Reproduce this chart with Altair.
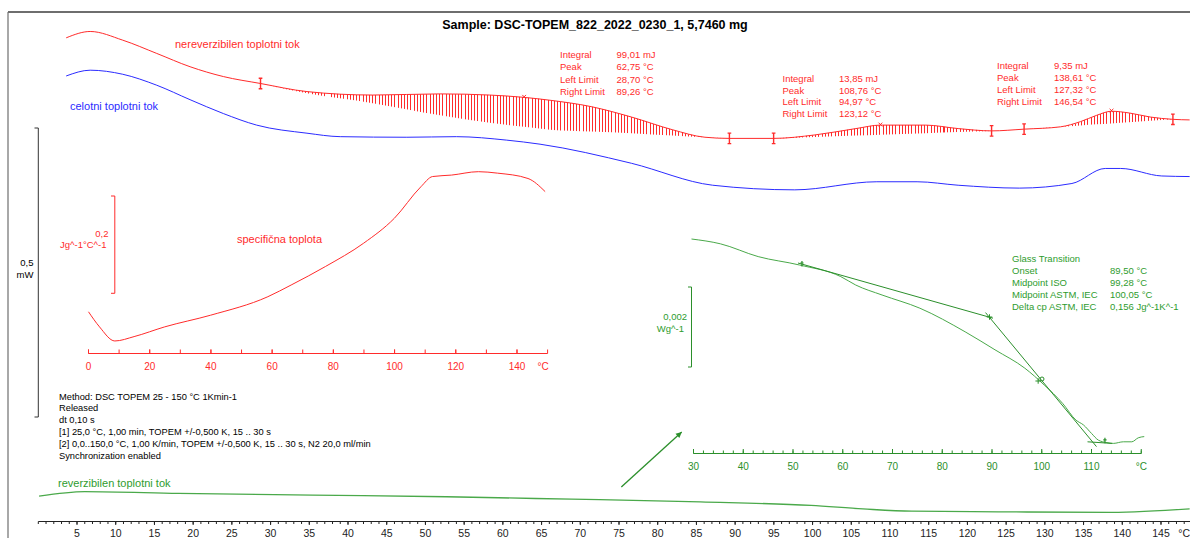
import math
import altair as alt
import pandas as pd

# ---------------- data ----------------
TITLE = "Sample: DSC-TOPEM_822_2022_0230_1, 5,7460 mg"

# main temperature axis (°C) and heat flow (mW, arbitrary offset)
NREV_T = [3.6, 6.7, 10.9, 15.3, 19.6, 23.9, 28.7, 34.7, 43.2, 51.9, 58.3, 62.75, 66.1, 71.4,
          76.6, 81.9, 86.1, 89.26, 94.97, 100.3, 105.6, 108.76, 114.6, 118.8, 123.12, 127.32,
          132.0, 134.6, 136.7, 138.61, 140.9, 143.6, 146.54, 148.7]
NREV_V = [0.656, 0.667, 0.652, 0.629, 0.606, 0.589, 0.577, 0.563, 0.557, 0.559, 0.557, 0.553,
          0.548, 0.537, 0.519, 0.497, 0.484, 0.482, 0.482, 0.488, 0.499, 0.505, 0.505, 0.499,
          0.495, 0.498, 0.502, 0.511, 0.522, 0.529, 0.526, 0.519, 0.515, 0.514]

TOTAL_T = [3.6, 6.7, 10.9, 15.3, 19.6, 23.9, 28.2, 34.7, 39.0, 47.6, 54.0, 60.5, 64.8, 76.6,
           87.1, 97.7, 108.3, 113.5, 118.8, 126.7, 133.5, 137.8, 139.8, 145.1, 148.7]
TOTAL_V = [0.590, 0.600, 0.593, 0.574, 0.549, 0.525, 0.505, 0.491, 0.485, 0.484, 0.485, 0.479,
           0.472, 0.439, 0.401, 0.393, 0.407, 0.407, 0.401, 0.396, 0.404, 0.430, 0.430, 0.417,
           0.416]

REV_T = [0.1, 6.0, 18.1, 35.4, 52.7, 64.2, 72.5, 85.5, 99.8, 106.5, 112.8, 124.0, 138.6, 148.7]
REV_V = [-0.137, -0.129, -0.132, -0.135, -0.138, -0.141, -0.143, -0.147, -0.153, -0.159,
         -0.163, -0.164, -0.165, -0.159]

# integration baselines under the non-reversing curve
PEAK1_T = [28.7, 34.7, 43.2, 51.9, 58.3, 62.75, 66.1, 71.4, 76.6, 81.9, 86.1, 89.26]
PEAK1_BASE = [0.577, 0.560, 0.543, 0.522, 0.509, 0.502, 0.497, 0.494, 0.491, 0.487, 0.484, 0.482]
PEAK2_T = [94.97, 100.3, 105.6, 108.76, 114.6, 118.8, 123.12]
PEAK2_BASE = [0.482, 0.4845, 0.487, 0.4885, 0.491, 0.493, 0.495]
PEAK3_T = [127.32, 132.0, 134.6, 136.7, 138.61, 140.9, 143.6, 146.54]
PEAK3_BASE = [0.498, 0.502, 0.5045, 0.5065, 0.508, 0.510, 0.5125, 0.515]
PEAK_TOPS = [62.75, 108.76, 138.61]
PEAK_LIMITS = [28.7, 89.26, 94.97, 123.12, 127.32, 146.54]

PEAK_LABELS = ["Integral", "Peak", "Left Limit", "Right Limit"]
PEAK1_VALUES = ["99,01 mJ", "62,75 °C", "28,70 °C", "89,26 °C"]
PEAK2_VALUES = ["13,85 mJ", "108,76 °C", "94,97 °C", "123,12 °C"]
PEAK3_VALUES = ["9,35 mJ", "138,61 °C", "127,32 °C", "146,54 °C"]

# specific heat inset (°C, Jg^-1°C^-1, arbitrary offset)
CP_T = [0.0, 3.6, 8.6, 14.9, 24.9, 39.9, 58.6, 66.2, 77.4, 89.9, 99.9, 108.6, 112.4, 118.6,
        127.4, 133.6, 143.6, 149.2]
CP_V = [-0.038, -0.069, -0.098, -0.089, -0.069, -0.045, -0.007, 0.017, 0.055, 0.103, 0.154,
        0.219, 0.240, 0.243, 0.250, 0.247, 0.236, 0.209]

# glass transition inset (°C, Wg^-1, arbitrary offset)
GT_T = [29.6, 35.4, 43.0, 51.3, 59.6, 62.6, 67.9, 75.5, 84.6, 90.6, 96.6, 100.5, 104.2, 106.9,
        108.4, 110.0, 111.4, 113.1, 114.4, 116.4, 118.1, 119.4, 120.6]
GT_V = [0.00320, 0.00308, 0.00276, 0.00255, 0.00226, 0.00205, 0.00180, 0.00147, 0.00088,
        0.00043, -0.00003, -0.00045, -0.00091, -0.00133, -0.00145, -0.00166, -0.00183,
        -0.00189, -0.00191, -0.00187, -0.00187, -0.00177, -0.00174]
TAN1_T, TAN1_V = [51.0, 90.2], [0.00260, 0.00122]
TAN2_T, TAN2_V = [88.7, 111.0], [0.00136, -0.00199]
TAN3_T, TAN3_V = [109.2, 114.1], [-0.00187, -0.00191]
GT_PLUS_T, GT_PLUS_V = [89.5, 99.28], [0.00125, -0.00035]
GT_RING_T, GT_RING_V = [100.05], [-0.00030]
GT_TICK_T, GT_TICK_V = [51.8, 112.7], [0.00258, -0.00184]

GT_LABELS = ["Glass Transition", "Onset", "Midpoint ISO", "Midpoint ASTM, IEC", "Delta cp ASTM, IEC"]
GT_VALUES = ["", "89,50 °C", "99,28 °C", "100,05 °C", "0,156 Jg^-1K^-1"]

METHOD_LINES = [
    "Method: DSC TOPEM 25 - 150 °C 1Kmin-1",
    "Released",
    "dt 0,10 s",
    "[1] 25,0 °C, 1,00 min, TOPEM +/-0,500 K, 15 .. 30 s",
    "[2] 0,0..150,0 °C, 1,00 K/min, TOPEM +/-0,500 K, 15 .. 30 s, N2 20,0 ml/min",
    "Synchronization enabled",
]

ARROW_T, ARROW_V = [75.3, 83.1], [-0.121, -0.026]

MAIN_LABELS = [5, 10, 15, 20, 25, 30, 35, 40, 45, 50, 55, 60, 65, 70, 75, 80, 85, 90, 95, 100,
               105, 110, 115, 120, 125, 130, 135, 140, 145]
CP_LABELS = [0, 20, 40, 60, 80, 100, 120, 140]
GT_LABELS_AX = [30, 40, 50, 60, 70, 80, 90, 100, 110]

# ---------------- styles / layout ----------------
W, H = 1190, 538
FONT = "Liberation Sans"
RED = "#ff2b2b"
BLUE = "#2b2bff"
GREEN = "#4aa94a"
GREEN_DK = "#2b8f2b"
GREEN_TXT = "#2e9c2e"
GRAY = "#6e6e6e"

MX = [38.3, 1199.7]


def sc(domain, rng):
    return alt.Scale(domain=domain, range=rng, nice=False, zero=False)


SX_MAIN = sc([0, 150], MX)
SY_MAIN = sc([0, 0.5], [417, 128])
SX_CP = sc([0, 150], [88.5, 547.6])
SY_CP = sc([0, 0.2], [293.3, 196])
SX_GT = sc([30, 120], [693.5, 1141.25])
SY_GT = sc([0, 0.002], [367, 287])

layers = []


def XY(xs, ys, xf="x", yf="y"):
    return dict(x=alt.X(f"{xf}:Q", scale=xs, axis=None), y=alt.Y(f"{yf}:Q", scale=ys, axis=None))


def line(T, V, xs, ys, color, width=1.0, interp="monotone"):
    df = pd.DataFrame({"x": T, "y": V})
    return alt.Chart(df).mark_line(color=color, strokeWidth=width, interpolate=interp).encode(**XY(xs, ys))


def points(T, V, xs, ys, shape, color, size, angle=0, filled=False, sw=1.0):
    df = pd.DataFrame({"x": T, "y": V})
    return alt.Chart(df).mark_point(shape=shape, color=color, size=size, angle=angle,
                                    filled=filled, strokeWidth=sw, opacity=1).encode(**XY(xs, ys))


def text(s, x, y, color="black", size=9.5, align="left", weight="normal"):
    df = pd.DataFrame({"t": [s]})
    return alt.Chart(df).mark_text(font=FONT, fontSize=size, color=color, align=align,
                                   baseline="middle", fontWeight=weight).encode(
        x=alt.value(x), y=alt.value(y), text="t:N")


def block(lines_, x, y0, dy, color="black", size=9.5):
    return [text(s, x, y0 + i * dy, color, size) for i, s in enumerate(lines_) if s]


def axis(xs, t0, t1, minor, major, labels, y_line, direction, color, unit_t, fs,
         lab_y, minor_len=3, major_len=4.5):
    out = []
    out.append(alt.Chart(pd.DataFrame({"a": [t0], "b": [t1]})).mark_rule(color=color, strokeWidth=1).encode(
        x=alt.X("a:Q", scale=xs, axis=None), x2="b:Q", y=alt.value(y_line)))
    out.append(alt.Chart(pd.DataFrame({"x": minor})).mark_rule(color=color, strokeWidth=1).encode(
        x=alt.X("x:Q", scale=xs, axis=None), y=alt.value(y_line), y2=alt.value(y_line + direction * minor_len)))
    out.append(alt.Chart(pd.DataFrame({"x": major})).mark_rule(color=color, strokeWidth=1).encode(
        x=alt.X("x:Q", scale=xs, axis=None), y=alt.value(y_line), y2=alt.value(y_line + direction * major_len)))
    out.append(alt.Chart(pd.DataFrame({"x": labels, "t": [str(v) for v in labels]})).mark_text(
        font=FONT, fontSize=fs, color=color, baseline="middle", align="center").encode(
        x=alt.X("x:Q", scale=xs, axis=None), y=alt.value(lab_y), text="t:N"))
    out.append(alt.Chart(pd.DataFrame({"x": [unit_t], "t": ["°C"]})).mark_text(
        font=FONT, fontSize=fs, color=color, baseline="middle", align="center").encode(
        x=alt.X("x:Q", scale=xs, axis=None), y=alt.value(lab_y), text="t:N"))
    return out


def bracket(lo, hi, xs_px, serif_px, ys, color):
    out = []
    df = pd.DataFrame({"a": [lo], "b": [hi]})
    out.append(alt.Chart(df).mark_rule(color=color, strokeWidth=1).encode(
        x=alt.value(xs_px), y=alt.Y("a:Q", scale=ys, axis=None), y2="b:Q"))
    out.append(alt.Chart(pd.DataFrame({"y": [lo, hi]})).mark_rule(color=color, strokeWidth=1).encode(
        x=alt.value(serif_px), x2=alt.value(xs_px), y=alt.Y("y:Q", scale=ys, axis=None)))
    return out


# ---------- frame ----------
layers.append(alt.Chart(pd.DataFrame({"d": [0]})).mark_rule(color=GRAY, strokeWidth=1.2).encode(
    x=alt.value(8), y=alt.value(12), y2=alt.value(H)))
layers.append(alt.Chart(pd.DataFrame({"d": [0]})).mark_rule(color=GRAY, strokeWidth=2).encode(
    x=alt.value(8), x2=alt.value(W), y=alt.value(12)))

# ---------- scale bars ----------
layers += bracket(0, 0.5, 38.3, 34.5, SY_MAIN, "#333333")
layers += bracket(0, 0.2, 114.8, 111, SY_CP, RED)
layers += bracket(0, 0.002, 691.5, 688, SY_GT, GREEN_DK)

# ---------- axes ----------
layers += axis(SX_MAIN, 0, 150, list(range(0, 150)), MAIN_LABELS, MAIN_LABELS, 521.5, 1, "#222222",
               148.0, 10.5, 533.5, 2.5, 3.5)
layers += axis(SX_CP, 0, 150, list(range(0, 151, 10)), list(range(0, 151, 20)), CP_LABELS, 353.5, -1, RED,
               148.5, 10, 367, 4, 4)
layers += axis(SX_GT, 30, 120, list(range(30, 121, 2)), list(range(30, 121, 10)), GT_LABELS_AX, 453.5, -1,
               GREEN_DK, 120, 10, 466.5, 3, 4.5)

# ---------- hatched integration areas ----------
nrev = dict(zip(NREV_T, NREV_V))
HATCH_STEP = 3.2
px_per_deg = (MX[1] - MX[0]) / 150.0


def hatch(Ts, base):
    df = pd.DataFrame({"x": Ts, "y": [nrev[t] for t in Ts], "y2": base})
    n = max(1, round((Ts[-1] - Ts[0]) * px_per_deg / HATCH_STEP))
    lw = 1.0 / HATCH_STEP
    stops = []
    clear = "rgba(255,43,43,0)"
    for i in range(n):
        a, b, c = i / n, (i + lw) / n, (i + 1) / n
        stops += [alt.GradientStop(color=RED, offset=a), alt.GradientStop(color=RED, offset=b),
                  alt.GradientStop(color=clear, offset=b), alt.GradientStop(color=clear, offset=c)]
    grad = alt.LinearGradient(gradient="linear", stops=stops, x1=0, x2=1, y1=0, y2=0)
    return alt.Chart(df).mark_area(color=grad, interpolate="monotone").encode(
        **XY(SX_MAIN, SY_MAIN), y2="y2:Q")


layers += [hatch(PEAK1_T, PEAK1_BASE), hatch(PEAK2_T, PEAK2_BASE), hatch(PEAK3_T, PEAK3_BASE)]

# ---------- curves ----------
layers.append(line(NREV_T, NREV_V, SX_MAIN, SY_MAIN, RED))
layers.append(line(TOTAL_T, TOTAL_V, SX_MAIN, SY_MAIN, BLUE))
layers.append(line(REV_T, REV_V, SX_MAIN, SY_MAIN, GREEN, 1.3))
layers.append(line(CP_T, CP_V, SX_CP, SY_CP, RED))
layers.append(line(GT_T, GT_V, SX_GT, SY_GT, GREEN))
layers.append(line(TAN1_T, TAN1_V, SX_GT, SY_GT, GREEN_DK, 1.0, "linear"))
layers.append(line(TAN2_T, TAN2_V, SX_GT, SY_GT, GREEN_DK, 1.0, "linear"))
layers.append(line(TAN3_T, TAN3_V, SX_GT, SY_GT, GREEN_DK, 1.0, "linear"))
layers.append(line(ARROW_T, ARROW_V, SX_MAIN, SY_MAIN, GREEN_DK, 1.3, "linear"))

# arrow head
dxp = (ARROW_T[1] - ARROW_T[0]) * px_per_deg
dyp = (ARROW_V[1] - ARROW_V[0]) * (417 - 128) / 0.5
ang = math.degrees(math.atan2(dxp, dyp))
layers.append(points([ARROW_T[1]], [ARROW_V[1]], SX_MAIN, SY_MAIN, "M0,0L-0.55,1.1L0.55,1.1Z",
                     GREEN_DK, 110, ang, True))

# ---------- markers ----------
IBEAM = "M0,-1L0,1M-0.35,-1L0.35,-1M-0.35,1L0.35,1"
CROSSX = "M-1,-1L1,1M-1,1L1,-1"
PLUS = "M-1,0L1,0M0,-1L0,1"
TMARK = "M0,-1L0,1M-0.6,-0.3L0.6,-0.3"
layers.append(points(PEAK_LIMITS, [nrev[t] for t in PEAK_LIMITS], SX_MAIN, SY_MAIN, IBEAM, RED, 110, sw=1.4))
layers.append(points(PEAK_TOPS, [nrev[t] + 0.001 for t in PEAK_TOPS], SX_MAIN, SY_MAIN, CROSSX, RED, 14, sw=1.0))
layers.append(points(GT_PLUS_T, GT_PLUS_V, SX_GT, SY_GT, PLUS, GREEN_DK, 30, sw=1.0))
layers.append(points(GT_RING_T, GT_RING_V, SX_GT, SY_GT, "circle", GREEN_DK, 16, sw=1.0))
layers.append(points(GT_TICK_T, GT_TICK_V, SX_GT, SY_GT, TMARK, GREEN_DK, 30, sw=1.2))

# ---------- texts ----------
layers.append(text(TITLE, 595, 25, "black", 12.5, "center", "bold"))
layers.append(text("nereverzibilen toplotni tok", 175, 45, RED, 11))
layers.append(text("celotni toplotni tok", 70, 106.5, BLUE, 11))
layers.append(text("specifična toplota", 237, 240, RED, 11))
layers.append(text("reverzibilen toplotni tok", 58, 484, GREEN_TXT, 11))

layers.append(text("0,5", 33.5, 263, "black", 9.5, "right"))
layers.append(text("mW", 33.5, 275, "black", 9.5, "right"))
layers.append(text("0,2", 108.5, 234, RED, 9.5, "right"))
layers.append(text("Jg^-1°C^-1", 106.5, 245, RED, 9.5, "right"))
layers.append(text("0,002", 687, 317, GREEN_TXT, 9.5, "right"))
layers.append(text("Wg^-1", 684, 329, GREEN_TXT, 9.5, "right"))

layers += block(PEAK_LABELS, 560, 55.3, 12.1, RED)
layers += block(PEAK1_VALUES, 616.5, 55.3, 12.1, RED)
layers += block(PEAK_LABELS, 782.5, 79, 11.7, RED)
layers += block(PEAK2_VALUES, 839, 79, 11.7, RED)
layers += block(PEAK_LABELS, 997, 65.7, 12, RED)
layers += block(PEAK3_VALUES, 1054, 65.7, 12, RED)
layers += block(GT_LABELS, 1012, 259.3, 12, GREEN_TXT)
layers += block(GT_VALUES, 1110, 259.3, 12, GREEN_TXT)
layers += block(METHOD_LINES, 59, 396.5, 11.95, "black", 9.3)

chart = (
    alt.layer(*layers)
    .resolve_scale(x="independent", y="independent")
    .properties(width=W, height=H, padding=0, autosize=alt.AutoSizeParams(type="none"),
                background="white")
    .configure_view(stroke=None)
)

chart.save("out.html", embed_options={"renderer": "svg", "actions": False})
